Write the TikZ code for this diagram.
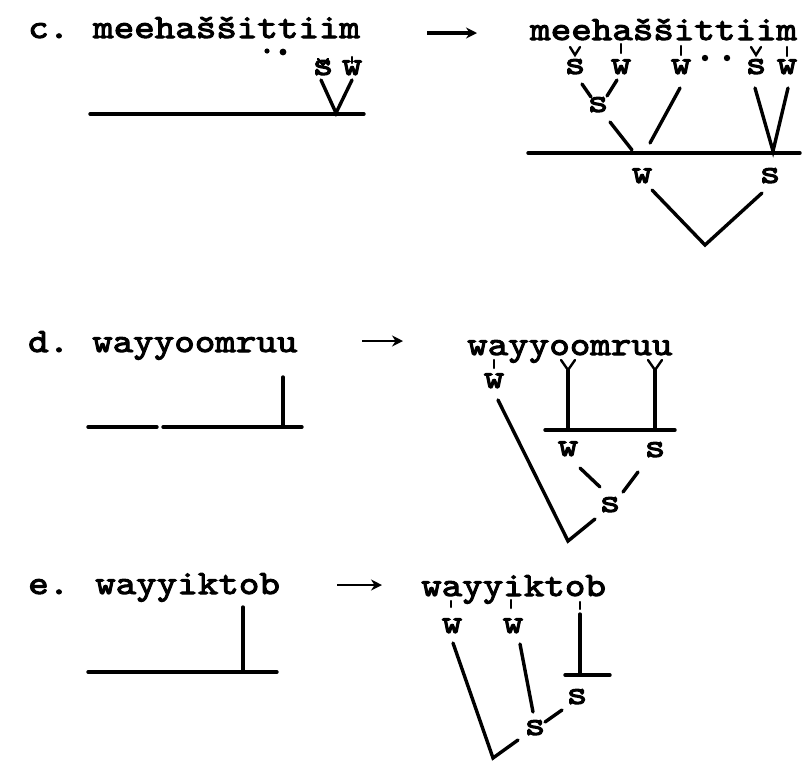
\documentclass[tikz,border=0pt]{standalone}
\usepackage{fontspec}
\newfontfamily\tw{lmmono10-regular.otf}[FakeStretch=1.15,FakeBold=3]
\usetikzlibrary{arrows.meta}
\begin{document}
\begin{tikzpicture}[x=1pt,y=-1pt,
  txt/.style={font=\tw\fontsize{34}{38}\selectfont, inner sep=0pt, anchor=base west},
  lab/.style={font=\tw\fontsize{34}{38}\selectfont, inner sep=0pt, anchor=base},
  ln/.style={line width=3.4pt, line cap=round},
  mk/.style={line width=2.4pt, line cap=round},
  arr/.style={line width=3.4pt, -{Stealth[length=11pt,width=11pt]}},
]
\useasboundingbox (0,0) rectangle (802,764);

% ---------------- row c ----------------
\node[txt] (cl) at (28,38) {c.};
\node[txt] (cw) at (93,38) {meehaššittiim};
\fill (267,51) circle (2.6);
\fill (283,52) circle (3.4);
\node[lab] (cls) at (323,75) {s};
\node[lab] (clw) at (352,75) {w};
\draw[mk] (318,59) -- (323,65) -- (328,59);
\draw[mk] (352,57) -- (352,63);
\coordinate (cva) at (321,80);
\coordinate (cvb) at (352,80);
\coordinate (cvc) at (336,113);
\draw[ln] (cva) -- (cvc) -- (cvb);
\coordinate (cl1) at (90,114);
\coordinate (cl2) at (364,114);
\draw[ln] (cl1) -- (cl2);

\coordinate (ca1) at (427,33);
\coordinate (ca2) at (477,33);
\draw[arr] (ca1) -- (ca2);

\node[txt] (cr) at (530,40) {meehaššittiim};
\draw[mk] (570,47) -- (575,55) -- (580,47);
\draw[mk] (751,47) -- (756,55) -- (761,47);
\draw[mk] (621,44) -- (621,53);
\draw[mk] (681,46) -- (681,55);
\draw[mk] (787,47) -- (787,56);
\fill (705,58) circle (3.2);
\fill (727,58) circle (3.2);
\node[lab] (cs1) at (575,74) {s};
\node[lab] (cw1) at (621,74) {w};
\node[lab] (cw2) at (681,74) {w};
\node[lab] (cs2) at (756,74) {s};
\node[lab] (cw3) at (787,74) {w};
\node[lab] (cs3) at (598,112) {s};
\coordinate (p1) at (582,84); \coordinate (p2) at (591,97);
\coordinate (p3) at (617,80); \coordinate (p4) at (607,96);
\draw[ln] (p1) -- (p2);
\draw[ln] (p3) -- (p4);
\coordinate (p5) at (610,122); \coordinate (p6) at (632,150);
\coordinate (p7) at (680,88); \coordinate (p8) at (650,143);
\draw[ln] (p5) -- (p6);
\draw[ln] (p7) -- (p8);
\coordinate (p9) at (755,88); \coordinate (p10) at (788,88); \coordinate (p11) at (773,151);
\draw[ln] (p9) -- (p11) -- (p10);
\coordinate (h1) at (528,153); \coordinate (h2) at (800,153);
\draw[ln] (h1) -- (h2);
\node[lab] (cw4) at (642,183) {w};
\node[lab] (cs4) at (770,183) {s};
\coordinate (q1) at (652,190); \coordinate (q2) at (705,245); \coordinate (q3) at (762,193);
\draw[ln] (q1) -- (q2) -- (q3);

% ---------------- row d ----------------
\node[txt] (dl) at (28,352) {d.};
\node[txt] (dw) at (92,352) {wayyoomruu};
\coordinate (da1) at (362,341);
\coordinate (da2) at (403,341);
\draw[arr, line width=2.6pt] (da1) -- (da2);
\coordinate (dl1) at (88,427); \coordinate (dl2) at (157,427);
\coordinate (dl3) at (163,427); \coordinate (dl4) at (302,427);
\coordinate (dv1) at (283,377); \coordinate (dv2) at (283,427);
\draw[ln] (dl1) -- (dl2);
\draw[ln] (dl3) -- (dl4);
\draw[ln] (dv1) -- (dv2);

\node[txt] (dr) at (467,355) {wayyoomruu};
\draw[mk] (494,360) -- (494,368);
\node[lab] (dw1) at (494,388) {w};
\draw[mk] (561,360) -- (568,370) -- (575,360);
\draw[mk] (648,360) -- (655,370) -- (662,360);
\coordinate (f1) at (568,370); \coordinate (f2) at (568,430);
\coordinate (f3) at (655,370); \coordinate (f4) at (655,430);
\draw[ln] (f1) -- (f2);
\draw[ln] (f3) -- (f4);
\coordinate (dh1) at (545,430); \coordinate (dh2) at (675,430);
\draw[ln] (dh1) -- (dh2);
\node[lab] (dw2) at (568,456) {w};
\node[lab] (ds1) at (655,457) {s};
\coordinate (r1) at (580,468); \coordinate (r2) at (600,487);
\coordinate (r3) at (638,472); \coordinate (r4) at (623,492);
\draw[ln] (r1) -- (r2);
\draw[ln] (r3) -- (r4);
\node[lab] (ds2) at (610,512) {s};
\coordinate (r5) at (595,519); \coordinate (r6) at (568,541);
\coordinate (r7) at (498,400);
\draw[ln] (r7) -- (r6) -- (r5);

% ---------------- row e ----------------
\node[txt] (el) at (28,594) {e.};
\node[txt] (ew) at (95,594) {wayyiktob};
\coordinate (ea1) at (337,585);
\coordinate (ea2) at (382,585);
\draw[arr, line width=2.8pt] (ea1) -- (ea2);
\coordinate (el1) at (88,672); \coordinate (el2) at (277,672);
\coordinate (ev1) at (243,607); \coordinate (ev2) at (243,672);
\draw[ln] (el1) -- (el2);
\draw[ln] (ev1) -- (ev2);

\node[txt] (er) at (421,596) {wayyiktob};
\draw[mk] (451,601) -- (451,607);
\draw[mk] (511,600) -- (511,608);
\draw[mk] (580,602) -- (580,609);
\node[lab] (ew1) at (452,633) {w};
\node[lab] (ew2) at (513,633) {w};
\coordinate (t1) at (580,614); \coordinate (t2) at (580,675);
\draw[ln] (t1) -- (t2);
\coordinate (t3) at (565,675); \coordinate (t4) at (610,675);
\draw[ln] (t3) -- (t4);
\node[lab] (es1) at (577,704) {s};
\node[lab] (es2) at (535,735) {s};
\coordinate (u1) at (453,643); \coordinate (u2) at (493,758); \coordinate (u3) at (518,740);
\draw[ln] (u1) -- (u2) -- (u3);
\coordinate (u4) at (520,644); \coordinate (u5) at (533,712);
\draw[ln] (u4) -- (u5);
\coordinate (u6) at (545,722); \coordinate (u7) at (562,710);
\draw[ln] (u6) -- (u7);
\end{tikzpicture}
\end{document}
